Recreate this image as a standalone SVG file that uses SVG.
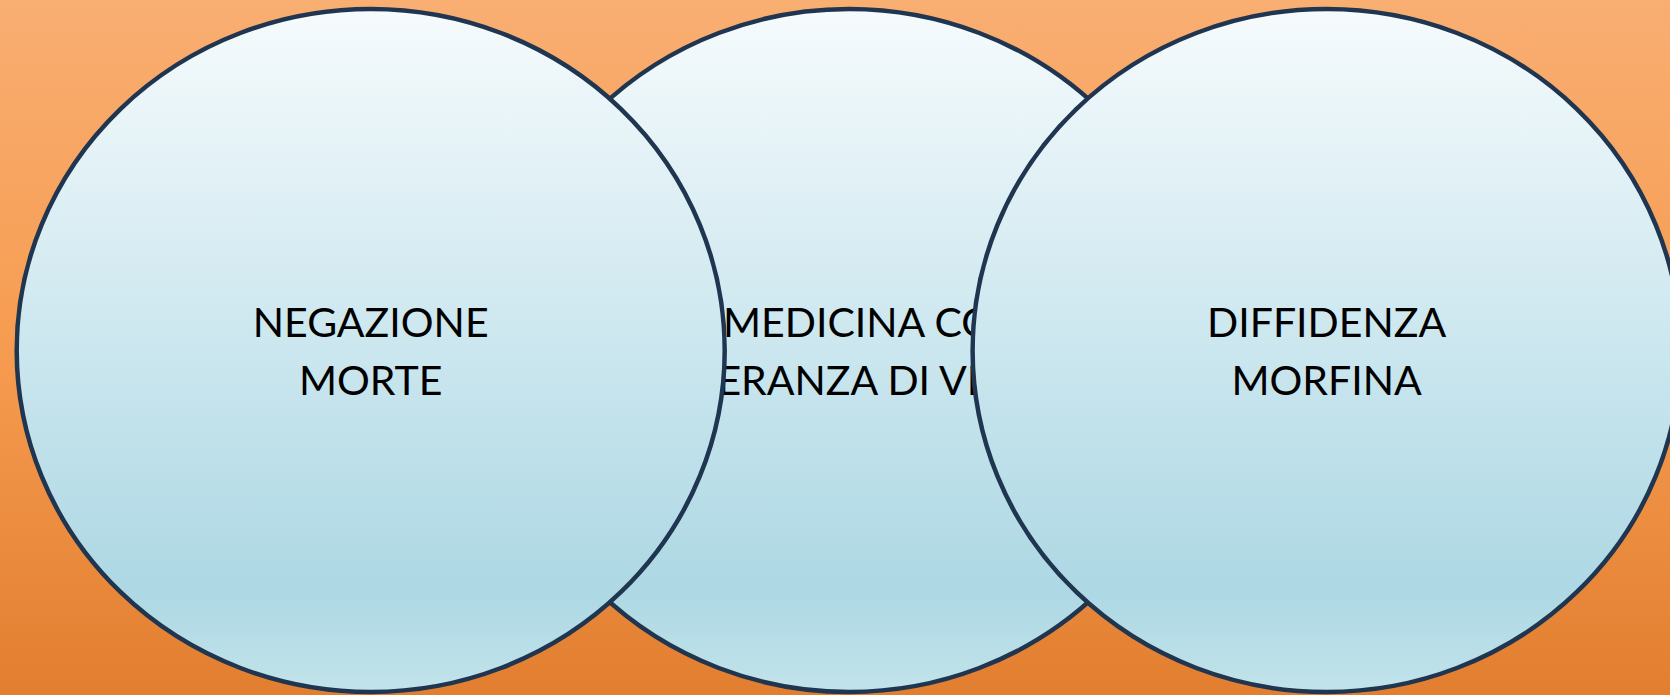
<svg xmlns="http://www.w3.org/2000/svg" width="1670" height="695" viewBox="0 0 1670 695">
<defs>
<linearGradient id="bg" x1="0" y1="0" x2="0" y2="1">
<stop offset="0" stop-color="#F9AE72"/>
<stop offset="0.5" stop-color="#F69C50"/>
<stop offset="1" stop-color="#E27E30"/>
</linearGradient>
<linearGradient id="fill" x1="0" y1="0" x2="0" y2="1">
<stop offset="0" stop-color="#F6FBFD"/>
<stop offset="0.85" stop-color="#ADD8E4"/>
<stop offset="1" stop-color="#C2E3EA"/>
</linearGradient>
</defs>
<style>
.circ{fill:url(#fill);stroke:#1F3550;stroke-width:4.5}
.lbl{font-family:Lato,"Open Sans","Liberation Sans",sans-serif;font-size:41px;fill:#000;text-anchor:middle}
.st{text-anchor:start}
</style>
<rect x="0" y="0" width="1670" height="695" fill="url(#bg)"/>
<g id="connectors"></g>
<g id="node-medicina">
<ellipse class="circ" cx="849" cy="350.5" rx="354" ry="341.5"/>
<text class="lbl st" x="723" y="337">MEDICINA CON</text>
<text class="lbl" x="849" y="395">SPERANZA DI VITA</text>
</g>
<g id="node-negazione">
<ellipse class="circ" cx="370.7" cy="350.5" rx="354" ry="341.5"/>
<text class="lbl" x="370.7" y="337">NEGAZIONE</text>
<text class="lbl" x="370.7" y="395">MORTE</text>
</g>
<g id="node-diffidenza">
<ellipse class="circ" cx="1326.6" cy="350.5" rx="354" ry="341.5"/>
<text class="lbl" x="1326.6" y="337">DIFFIDENZA</text>
<text class="lbl" x="1326.6" y="395">MORFINA</text>
</g>
</svg>
